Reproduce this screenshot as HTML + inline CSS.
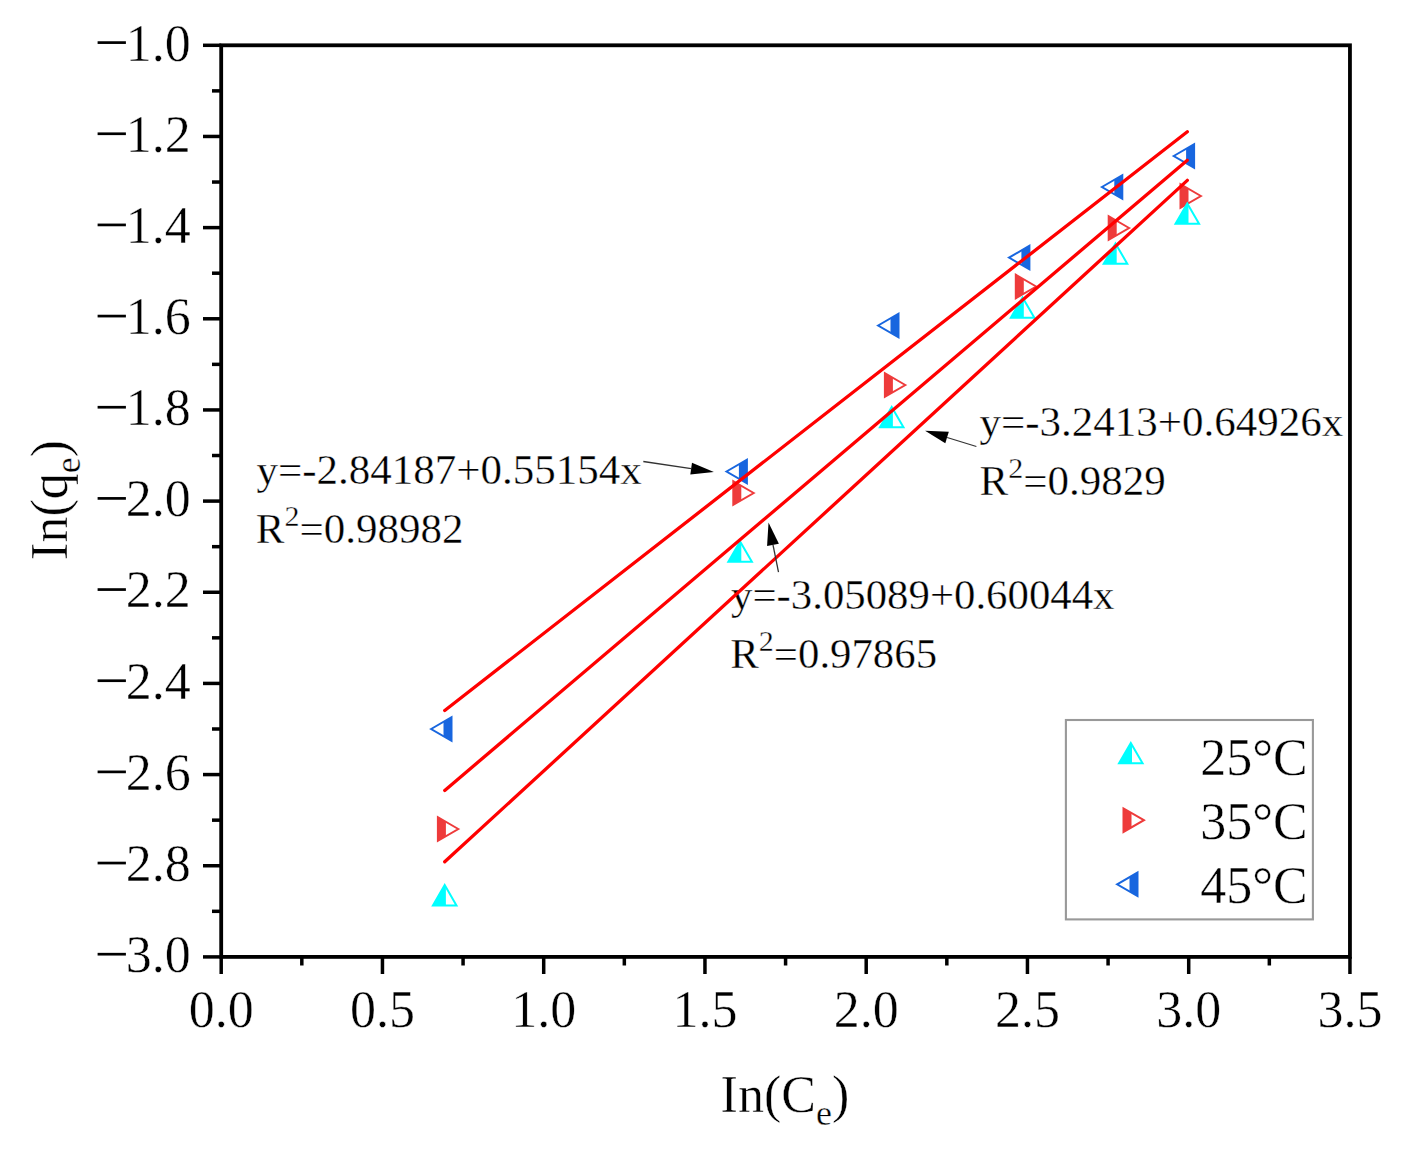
<!DOCTYPE html>
<html><head><meta charset="utf-8"><style>
html,body{margin:0;padding:0;background:#fff;}
svg{display:block;}
.t{font-family:"Liberation Serif",serif;font-size:52px;fill:#000;stroke:#fff;stroke-width:0.4px;}
.a{font-family:"Liberation Serif",serif;font-size:43px;fill:#000;stroke:#fff;stroke-width:0.35px;}
.sup{font-size:30px;}
.sub{font-size:36px;}
</style></head><body>
<svg width="1404" height="1157" viewBox="0 0 1404 1157">
<rect width="1404" height="1157" fill="#fff"/>

<text x="256.5" y="483.8" class="a">y=-2.84187+0.55154x</text>
<text x="255.8" y="543.3" class="a">R<tspan class="sup" dy="-17.5">2</tspan><tspan dy="17.5">=0.98982</tspan></text>
<text x="979.4" y="435.5" class="a">y=-3.2413+0.64926x</text>
<text x="979.6" y="495.2" class="a">R<tspan class="sup" dy="-17.5">2</tspan><tspan dy="17.5">=0.9829</tspan></text>
<text x="731" y="608.8" class="a" style="font-size:42.8px">y=-3.05089+0.60044x</text>
<text x="730.3" y="668.2" class="a" style="font-size:42.8px">R<tspan class="sup" dy="-17.5">2</tspan><tspan dy="17.5">=0.97865</tspan></text>

<polygon points="451.50,717.22 443.50,721.93 443.50,736.07 451.50,740.78" fill="#1866DF"/><polygon points="431.10,729.00 451.50,717.22 451.50,740.78" fill="none" stroke="#1866DF" stroke-width="2.0"/>
<polygon points="746.90,459.72 738.90,464.43 738.90,478.57 746.90,483.28" fill="#1866DF"/><polygon points="726.50,471.50 746.90,459.72 746.90,483.28" fill="none" stroke="#1866DF" stroke-width="2.0"/>
<polygon points="898.50,313.72 890.50,318.43 890.50,332.57 898.50,337.28" fill="#1866DF"/><polygon points="878.10,325.50 898.50,313.72 898.50,337.28" fill="none" stroke="#1866DF" stroke-width="2.0"/>
<polygon points="1029.40,245.82 1021.40,250.53 1021.40,264.67 1029.40,269.38" fill="#1866DF"/><polygon points="1009.00,257.60 1029.40,245.82 1029.40,269.38" fill="none" stroke="#1866DF" stroke-width="2.0"/>
<polygon points="1122.30,175.22 1114.30,179.93 1114.30,194.07 1122.30,198.78" fill="#1866DF"/><polygon points="1101.90,187.00 1122.30,175.22 1122.30,198.78" fill="none" stroke="#1866DF" stroke-width="2.0"/>
<polygon points="1194.10,144.22 1186.10,148.93 1186.10,163.07 1194.10,167.78" fill="#1866DF"/><polygon points="1173.70,156.00 1194.10,144.22 1194.10,167.78" fill="none" stroke="#1866DF" stroke-width="2.0"/>
<polygon points="437.90,817.22 445.90,821.93 445.90,836.07 437.90,840.78" fill="#EE3B3B"/><polygon points="458.30,829.00 437.90,817.22 437.90,840.78" fill="none" stroke="#EE3B3B" stroke-width="2.0"/>
<polygon points="733.30,481.22 741.30,485.93 741.30,500.07 733.30,504.78" fill="#EE3B3B"/><polygon points="753.70,493.00 733.30,481.22 733.30,504.78" fill="none" stroke="#EE3B3B" stroke-width="2.0"/>
<polygon points="884.90,373.22 892.90,377.93 892.90,392.07 884.90,396.78" fill="#EE3B3B"/><polygon points="905.30,385.00 884.90,373.22 884.90,396.78" fill="none" stroke="#EE3B3B" stroke-width="2.0"/>
<polygon points="1015.80,274.72 1023.80,279.43 1023.80,293.57 1015.80,298.28" fill="#EE3B3B"/><polygon points="1036.20,286.50 1015.80,274.72 1015.80,298.28" fill="none" stroke="#EE3B3B" stroke-width="2.0"/>
<polygon points="1108.70,216.22 1116.70,220.93 1116.70,235.07 1108.70,239.78" fill="#EE3B3B"/><polygon points="1129.10,228.00 1108.70,216.22 1108.70,239.78" fill="none" stroke="#EE3B3B" stroke-width="2.0"/>
<polygon points="1180.50,184.22 1188.50,188.93 1188.50,203.07 1180.50,207.78" fill="#EE3B3B"/><polygon points="1200.90,196.00 1180.50,184.22 1180.50,207.78" fill="none" stroke="#EE3B3B" stroke-width="2.0"/>
<polygon points="444.70,885.00 432.92,905.40 445.90,905.40 445.90,887.00" fill="#00FFFF"/><polygon points="444.70,885.00 432.92,905.40 456.48,905.40" fill="none" stroke="#00FFFF" stroke-width="2.0"/>
<polygon points="740.10,541.40 728.32,561.80 741.30,561.80 741.30,543.40" fill="#00FFFF"/><polygon points="740.10,541.40 728.32,561.80 751.88,561.80" fill="none" stroke="#00FFFF" stroke-width="2.0"/>
<polygon points="891.70,406.90 879.92,427.30 892.90,427.30 892.90,408.90" fill="#00FFFF"/><polygon points="891.70,406.90 879.92,427.30 903.48,427.30" fill="none" stroke="#00FFFF" stroke-width="2.0"/>
<polygon points="1022.60,297.40 1010.82,317.80 1023.80,317.80 1023.80,299.40" fill="#00FFFF"/><polygon points="1022.60,297.40 1010.82,317.80 1034.38,317.80" fill="none" stroke="#00FFFF" stroke-width="2.0"/>
<polygon points="1115.50,243.40 1103.72,263.80 1116.70,263.80 1116.70,245.40" fill="#00FFFF"/><polygon points="1115.50,243.40 1103.72,263.80 1127.28,263.80" fill="none" stroke="#00FFFF" stroke-width="2.0"/>
<polygon points="1187.30,203.40 1175.52,223.80 1188.50,223.80 1188.50,205.40" fill="#00FFFF"/><polygon points="1187.30,203.40 1175.52,223.80 1199.08,223.80" fill="none" stroke="#00FFFF" stroke-width="2.0"/>
<line x1="444.74" y1="710.57" x2="1187.32" y2="131.72" stroke="#FF0000" stroke-width="3.3" stroke-linecap="round"/>
<line x1="444.74" y1="790.39" x2="1187.32" y2="160.22" stroke="#FF0000" stroke-width="3.3" stroke-linecap="round"/>
<line x1="444.74" y1="861.76" x2="1187.32" y2="180.35" stroke="#FF0000" stroke-width="3.3" stroke-linecap="round"/>
<line x1="643.3" y1="461.5" x2="691.2" y2="468.6" stroke="#333" stroke-width="1.3"/><polygon points="713.9,472.0 690.3,474.6 692.0,462.7" fill="#000"/>
<line x1="976.4" y1="446.5" x2="947.1" y2="437.5" stroke="#333" stroke-width="1.3"/><polygon points="925.1,430.8 948.8,431.8 945.3,443.3" fill="#000"/>
<line x1="778.5" y1="572.2" x2="773.0" y2="544.9" stroke="#333" stroke-width="1.3"/><polygon points="768.5,522.4 778.9,543.8 767.1,546.1" fill="#000"/>
<rect x="221.20" y="45.30" width="1128.75" height="911.60" fill="none" stroke="#000" stroke-width="3.8"/>
<line x1="203" y1="45.30" x2="221.20" y2="45.30" stroke="#000" stroke-width="3.5"/>
<text x="190.8" y="60.50" text-anchor="end" class="t">1.0</text>
<rect x="97.6" y="41.25" width="28.3" height="2.7" fill="#000"/>
<line x1="203" y1="136.46" x2="221.20" y2="136.46" stroke="#000" stroke-width="3.5"/>
<text x="190.8" y="151.66" text-anchor="end" class="t">1.2</text>
<rect x="97.6" y="132.41" width="28.3" height="2.7" fill="#000"/>
<line x1="203" y1="227.62" x2="221.20" y2="227.62" stroke="#000" stroke-width="3.5"/>
<text x="190.8" y="242.82" text-anchor="end" class="t">1.4</text>
<rect x="97.6" y="223.57" width="28.3" height="2.7" fill="#000"/>
<line x1="203" y1="318.78" x2="221.20" y2="318.78" stroke="#000" stroke-width="3.5"/>
<text x="190.8" y="333.98" text-anchor="end" class="t">1.6</text>
<rect x="97.6" y="314.73" width="28.3" height="2.7" fill="#000"/>
<line x1="203" y1="409.94" x2="221.20" y2="409.94" stroke="#000" stroke-width="3.5"/>
<text x="190.8" y="425.14" text-anchor="end" class="t">1.8</text>
<rect x="97.6" y="405.89" width="28.3" height="2.7" fill="#000"/>
<line x1="203" y1="501.10" x2="221.20" y2="501.10" stroke="#000" stroke-width="3.5"/>
<text x="190.8" y="516.30" text-anchor="end" class="t">2.0</text>
<rect x="97.6" y="497.05" width="28.3" height="2.7" fill="#000"/>
<line x1="203" y1="592.26" x2="221.20" y2="592.26" stroke="#000" stroke-width="3.5"/>
<text x="190.8" y="607.46" text-anchor="end" class="t">2.2</text>
<rect x="97.6" y="588.21" width="28.3" height="2.7" fill="#000"/>
<line x1="203" y1="683.42" x2="221.20" y2="683.42" stroke="#000" stroke-width="3.5"/>
<text x="190.8" y="698.62" text-anchor="end" class="t">2.4</text>
<rect x="97.6" y="679.37" width="28.3" height="2.7" fill="#000"/>
<line x1="203" y1="774.58" x2="221.20" y2="774.58" stroke="#000" stroke-width="3.5"/>
<text x="190.8" y="789.78" text-anchor="end" class="t">2.6</text>
<rect x="97.6" y="770.53" width="28.3" height="2.7" fill="#000"/>
<line x1="203" y1="865.74" x2="221.20" y2="865.74" stroke="#000" stroke-width="3.5"/>
<text x="190.8" y="880.94" text-anchor="end" class="t">2.8</text>
<rect x="97.6" y="861.69" width="28.3" height="2.7" fill="#000"/>
<line x1="203" y1="956.90" x2="221.20" y2="956.90" stroke="#000" stroke-width="3.5"/>
<text x="190.8" y="972.10" text-anchor="end" class="t">3.0</text>
<rect x="97.6" y="952.85" width="28.3" height="2.7" fill="#000"/>
<line x1="212" y1="90.88" x2="221.20" y2="90.88" stroke="#000" stroke-width="3.5"/>
<line x1="212" y1="182.04" x2="221.20" y2="182.04" stroke="#000" stroke-width="3.5"/>
<line x1="212" y1="273.20" x2="221.20" y2="273.20" stroke="#000" stroke-width="3.5"/>
<line x1="212" y1="364.36" x2="221.20" y2="364.36" stroke="#000" stroke-width="3.5"/>
<line x1="212" y1="455.52" x2="221.20" y2="455.52" stroke="#000" stroke-width="3.5"/>
<line x1="212" y1="546.68" x2="221.20" y2="546.68" stroke="#000" stroke-width="3.5"/>
<line x1="212" y1="637.84" x2="221.20" y2="637.84" stroke="#000" stroke-width="3.5"/>
<line x1="212" y1="729.00" x2="221.20" y2="729.00" stroke="#000" stroke-width="3.5"/>
<line x1="212" y1="820.16" x2="221.20" y2="820.16" stroke="#000" stroke-width="3.5"/>
<line x1="212" y1="911.32" x2="221.20" y2="911.32" stroke="#000" stroke-width="3.5"/>
<line x1="221.20" y1="956.90" x2="221.20" y2="974" stroke="#000" stroke-width="3.5"/>
<text x="221.20" y="1027" text-anchor="middle" class="t">0.0</text>
<line x1="382.45" y1="956.90" x2="382.45" y2="974" stroke="#000" stroke-width="3.5"/>
<text x="382.45" y="1027" text-anchor="middle" class="t">0.5</text>
<line x1="543.70" y1="956.90" x2="543.70" y2="974" stroke="#000" stroke-width="3.5"/>
<text x="543.70" y="1027" text-anchor="middle" class="t">1.0</text>
<line x1="704.95" y1="956.90" x2="704.95" y2="974" stroke="#000" stroke-width="3.5"/>
<text x="704.95" y="1027" text-anchor="middle" class="t">1.5</text>
<line x1="866.20" y1="956.90" x2="866.20" y2="974" stroke="#000" stroke-width="3.5"/>
<text x="866.20" y="1027" text-anchor="middle" class="t">2.0</text>
<line x1="1027.45" y1="956.90" x2="1027.45" y2="974" stroke="#000" stroke-width="3.5"/>
<text x="1027.45" y="1027" text-anchor="middle" class="t">2.5</text>
<line x1="1188.70" y1="956.90" x2="1188.70" y2="974" stroke="#000" stroke-width="3.5"/>
<text x="1188.70" y="1027" text-anchor="middle" class="t">3.0</text>
<line x1="1349.95" y1="956.90" x2="1349.95" y2="974" stroke="#000" stroke-width="3.5"/>
<text x="1349.95" y="1027" text-anchor="middle" class="t">3.5</text>
<line x1="301.82" y1="956.90" x2="301.82" y2="965.5" stroke="#000" stroke-width="3.5"/>
<line x1="463.07" y1="956.90" x2="463.07" y2="965.5" stroke="#000" stroke-width="3.5"/>
<line x1="624.33" y1="956.90" x2="624.33" y2="965.5" stroke="#000" stroke-width="3.5"/>
<line x1="785.58" y1="956.90" x2="785.58" y2="965.5" stroke="#000" stroke-width="3.5"/>
<line x1="946.83" y1="956.90" x2="946.83" y2="965.5" stroke="#000" stroke-width="3.5"/>
<line x1="1108.08" y1="956.90" x2="1108.08" y2="965.5" stroke="#000" stroke-width="3.5"/>
<line x1="1269.33" y1="956.90" x2="1269.33" y2="965.5" stroke="#000" stroke-width="3.5"/>

<rect x="1065.9" y="720" width="247" height="199.4" fill="#fff" stroke="#999" stroke-width="2.1"/>
<polygon points="1130.80,742.90 1119.02,763.30 1132.00,763.30 1132.00,744.90" fill="#00FFFF"/><polygon points="1130.80,742.90 1119.02,763.30 1142.58,763.30" fill="none" stroke="#00FFFF" stroke-width="2.0"/>
<polygon points="1123.50,808.42 1131.50,813.13 1131.50,827.27 1123.50,831.98" fill="#EE3B3B"/><polygon points="1143.90,820.20 1123.50,808.42 1123.50,831.98" fill="none" stroke="#EE3B3B" stroke-width="2.0"/>
<polygon points="1137.50,872.52 1129.50,877.23 1129.50,891.37 1137.50,896.08" fill="#1866DF"/><polygon points="1117.10,884.30 1137.50,872.52 1137.50,896.08" fill="none" stroke="#1866DF" stroke-width="2.0"/>
<text x="1200.3" y="774.9" class="t">25°C</text>
<text x="1200.3" y="838.9" class="t">35°C</text>
<text x="1200.3" y="902.9" class="t">45°C</text>


<text x="720.6" y="1112" class="t">In(C<tspan class="sub" dy="13">e</tspan><tspan dy="-13">)</tspan></text>
<text transform="translate(67,559.9) rotate(-90)" x="0" y="0" class="t">In(q<tspan class="sub" dy="13">e</tspan><tspan dy="-13">)</tspan></text>

</svg>
</body></html>
